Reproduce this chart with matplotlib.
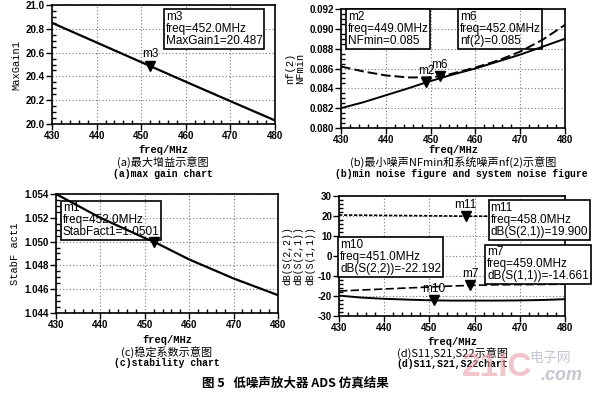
import numpy as np
import matplotlib
matplotlib.use('Agg')
import matplotlib.pyplot as plt
from matplotlib.ticker import MultipleLocator

plt.rcParams['font.family'] = ['Liberation Sans', 'DejaVu Sans']

# (a) max gain
freq_a = [430, 440, 450, 452, 460, 470, 480]
maxgain = [20.850, 20.685, 20.520, 20.487, 20.355, 20.192, 20.030]

# (b) noise figures
freq_b = [430, 435, 440, 445, 449, 452, 455, 460, 465, 470, 475, 480]
nfmin = [0.0820, 0.0826, 0.0833, 0.0840, 0.0846, 0.0850, 0.0854, 0.0860, 0.0867, 0.0874, 0.0882, 0.0890]
nf2 = [0.0862, 0.0857, 0.0853, 0.0851, 0.0851, 0.0852, 0.0855, 0.0861, 0.0868, 0.0877, 0.0889, 0.0904]

# (c) stability factor
freq_c = [430, 440, 450, 452, 460, 470, 480]
stabfact = [1.0540, 1.0520, 1.0503, 1.0500, 1.0485, 1.0469, 1.0455]

# (d) S parameters
freq_d = [430, 435, 440, 445, 451, 455, 458, 459, 465, 470, 475, 480]
s21 = [20.5, 20.4, 20.3, 20.2, 20.1, 20.0, 19.9, 19.9, 19.9, 19.8, 19.8, 19.8]
s11 = [-17.5, -17.0, -16.5, -16.0, -15.4, -15.0, -14.8, -14.7, -14.4, -14.3, -14.2, -14.1]
s22 = [-19.8, -20.8, -21.4, -21.8, -22.2, -22.3, -22.3, -22.3, -22.3, -22.2, -22.0, -21.6]

W, H = 600, 396
fig = plt.figure(figsize=(6, 3.96), dpi=100)


def px_axes(l, t, r, b):
    return fig.add_axes([l / W, 1 - b / H, (r - l) / W, (b - t) / H])


def style(ax, ylim, ymaj, ymin, fmt):
    ax.set_xlim(430, 480)
    ax.set_ylim(*ylim)
    ax.xaxis.set_major_locator(MultipleLocator(10))
    ax.xaxis.set_minor_locator(MultipleLocator(2))
    ax.yaxis.set_major_locator(MultipleLocator(ymaj))
    ax.yaxis.set_minor_locator(MultipleLocator(ymin))
    ax.yaxis.set_major_formatter(matplotlib.ticker.FormatStrFormatter(fmt))
    ax.tick_params(which='major', direction='out', length=4, width=1,
                   labelsize=7, pad=1)
    ax.tick_params(which='minor', direction='in', length=3, width=1)
    for lab in ax.get_xticklabels() + ax.get_yticklabels():
        lab.set_fontweight('bold')
    ax.grid(True, which='major', ls=(0, (1, 2)), color='#777777', lw=0.8)
    for s in ax.spines.values():
        s.set_linewidth(1.2)


def mark(ax, x, y, name, label=True):
    ax.plot([x], [y], marker='v', ms=7, color='black', zorder=8, clip_on=False)
    if label:
        ax.annotate(name, (x, y), xytext=(0, 4), textcoords='offset points',
                    ha='center', va='bottom', fontsize=8.5, zorder=8)


def box(ax, x, y, txt, fc='white'):
    ax.text(x, y, txt, transform=ax.transAxes, ha='left', va='top',
            fontsize=8.5, linespacing=1.0, clip_on=False, zorder=6,
            bbox=dict(boxstyle='square,pad=0.15', fc=fc, ec='black', lw=1.2))


mono = ['Liberation Mono', 'DejaVu Sans Mono']
cjk = ['Noto Sans CJK SC', 'DejaVu Sans']

# (a)
ax = px_axes(52, 5, 275, 124)
ax.plot(freq_a, maxgain, color='black', lw=1.6)
style(ax, (20.0, 21.0), 0.2, 0.05, '%.1f')
mark(ax, 452, 20.487, 'm3')
box(ax, 0.51, 0.95, 'm3\nfreq=452.0MHz\nMaxGain1=20.487')
ax.set_ylabel('MaxGain1', family=mono, fontsize=7.5, labelpad=3)

# (b)
ax = px_axes(341, 9, 565, 128)
ax.plot(freq_b, nfmin, color='black', lw=1.4)
ax.plot(freq_b, nf2, color='black', lw=1.4, ls=(0, (5, 2)))
style(ax, (0.080, 0.092), 0.002, 0.0005, '%.3f')
mark(ax, 449, 0.0846, 'm2')
mark(ax, 452, 0.0852, 'm6')
box(ax, 0.03, 0.985, 'm2\nfreq=449.0MHz\nNFmin=0.085')
box(ax, 0.53, 0.985, 'm6\nfreq=452.0MHz\nnf(2)=0.085', fc='none')
ax.set_ylabel('nf(2)\nNFmin', family=mono, fontsize=7.5, labelpad=3, linespacing=1.0)

# (c)
ax = px_axes(56, 194, 278, 313)
ax.plot(freq_c, stabfact, color='black', lw=1.6)
style(ax, (1.044, 1.054), 0.002, 0.0005, '%.3f')
mark(ax, 452, 1.0500, 'm1', label=False)
box(ax, 0.03, 0.93, 'm1\nfreq=452.0MHz\nStabFact1=1.0501', fc='none')
ax.set_ylabel('StabF act1', family=mono, fontsize=7.5, labelpad=3)

# (d)
ax = px_axes(339, 196, 565, 316)
ax.plot(freq_d, s21, color='black', lw=1.2, ls=(0, (2, 1)))
ax.plot(freq_d, s11, color='black', lw=1.2, ls=(0, (5, 2)))
ax.plot(freq_d, s22, color='black', lw=1.4)
style(ax, (-30, 30), 10, 2, '%d')
mark(ax, 458, 19.9, 'm11')
mark(ax, 459, -14.7, 'm7')
mark(ax, 451, -22.2, 'm10')
box(ax, 0.67, 0.95, 'm11\nfreq=458.0MHz\ndB(S(2,1))=19.900')
box(ax, 0.005, 0.64, 'm10\nfreq=451.0MHz\ndB(S(2,2))=-22.192')
box(ax, 0.655, 0.58, 'm7\nfreq=459.0MHz\ndB(S(1,1))=-14.661')
ax.set_ylabel('dB(S(2,2))\ndB(S(2,1))\ndB(S(1,1))', family=mono, fontsize=7,
              labelpad=2, linespacing=1.2)


def ftext(x, y, s, **kw):
    fig.text(x / W, 1 - y / H, s, ha='center', va='center', **kw)


ftext(163, 150, 'freq/MHz', family=mono, fontsize=7.5, fontweight='bold')
ftext(163, 162, '(a)最大增益示意图', family=cjk, fontsize=8)
ftext(163, 174, '(a)max gain chart', family=mono, fontsize=7, fontweight='bold')

ftext(453, 150, 'freq/MHz', family=mono, fontsize=7.5, fontweight='bold')
ftext(453, 162, '(b)最小噪声NFmin和系统噪声nf(2)示意图', family=cjk, fontsize=8)
ftext(461, 174, '(b)min noise figure and system noise figure', family=mono,
      fontsize=7, fontweight='bold')

ftext(167, 340, 'freq/MHz', family=mono, fontsize=7.5, fontweight='bold')
ftext(167, 352, '(c)稳定系数示意图', family=cjk, fontsize=8)
ftext(167, 363, '(c)stability chart', family=mono, fontsize=7, fontweight='bold')

ftext(452, 342, 'freq/MHz', family=mono, fontsize=7.5, fontweight='bold')
ftext(452, 353, '(d)S11,S21,S22示意图', family=cjk, fontsize=8)
ftext(452, 364, '(d)S11,S21,S22chart', family=mono, fontsize=7, fontweight='bold')

ftext(295, 383, '图 5   低噪声放大器 ADS 仿真结果', family=cjk, fontsize=9,
      fontweight='bold')

# watermark
ftext(497, 367, '21IC', fontsize=24, fontweight='bold', color='#e8a0a8', alpha=0.6)
ftext(550, 358, '电子网', family=cjk, fontsize=10, color='#b8b8c8', alpha=0.8)
ftext(562, 376, '.com', fontsize=13, fontstyle='italic', fontweight='bold',
      color='#b8b8c8', alpha=0.8)

fig.savefig('out.png', dpi=100)
